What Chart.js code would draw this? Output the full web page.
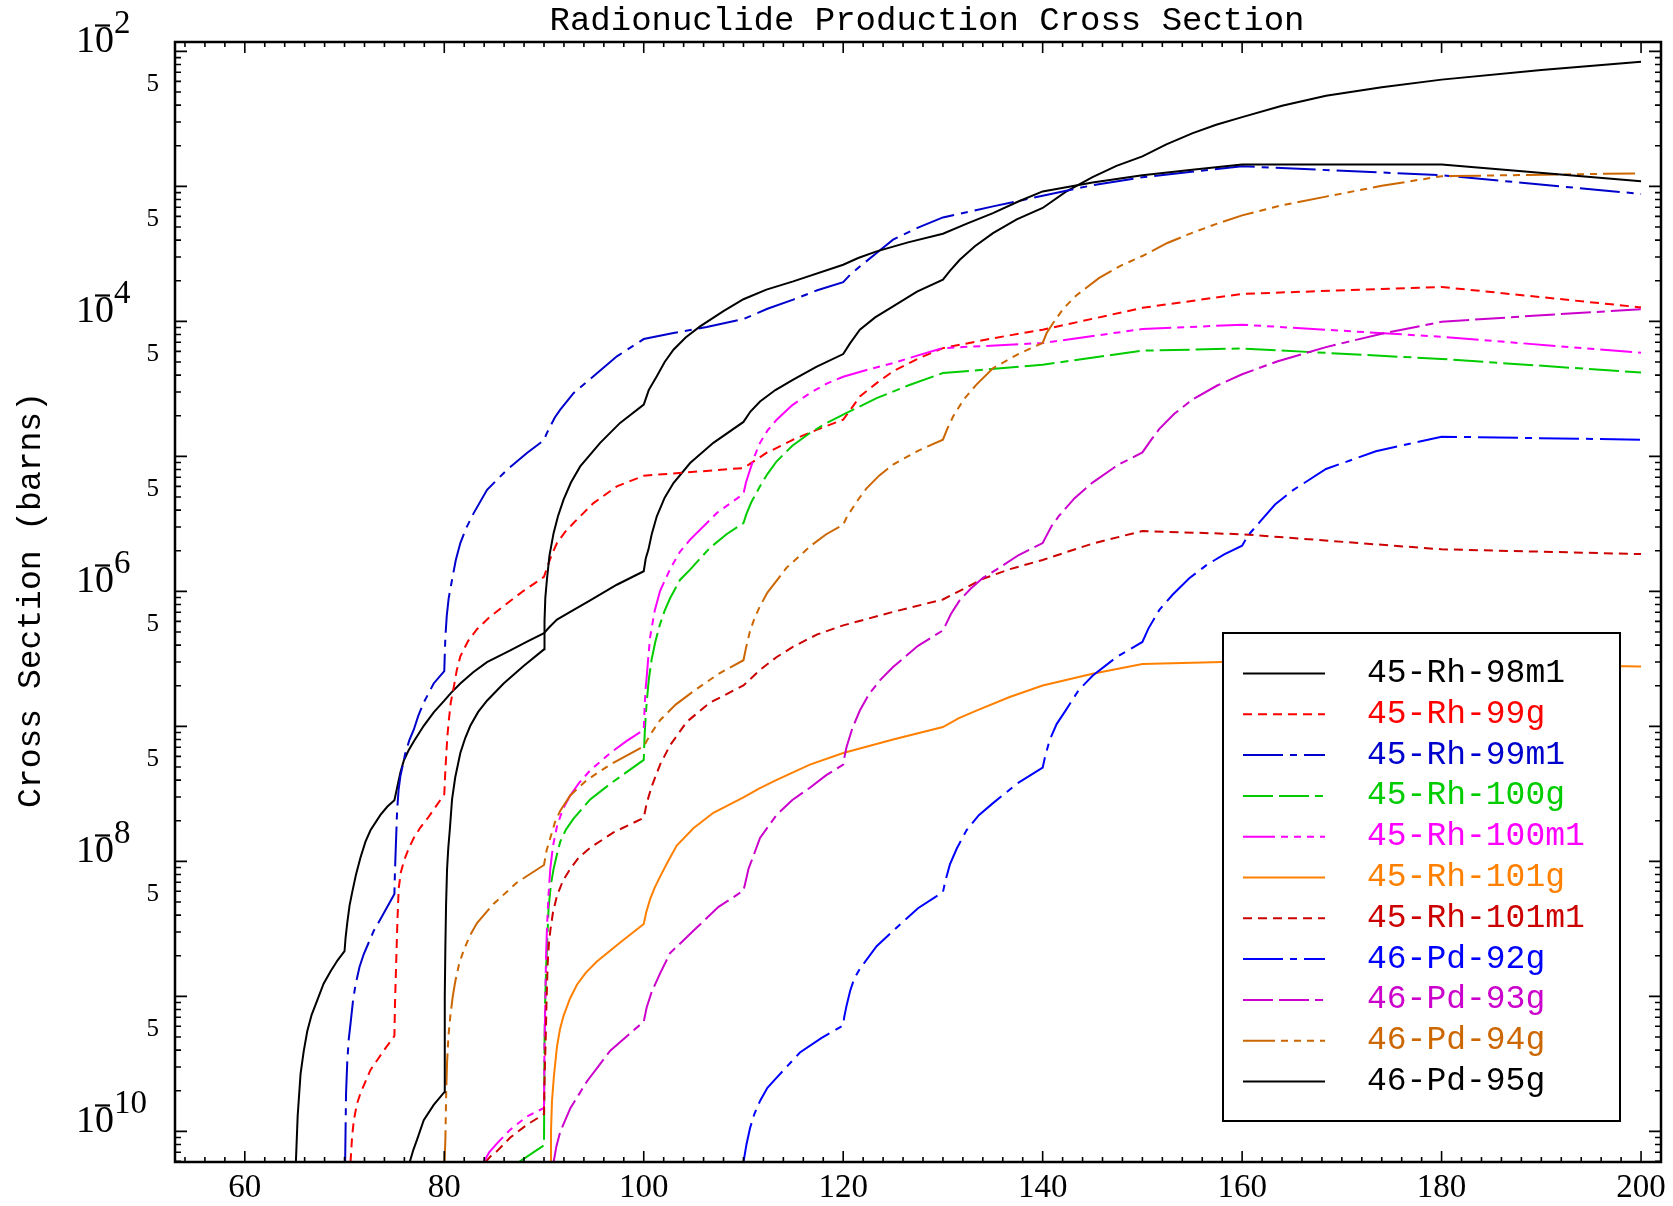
<!DOCTYPE html>
<html>
<head>
<meta charset="utf-8">
<title>Radionuclide Production Cross Section</title>
<script src="https://cdn.jsdelivr.net/npm/chart.js@4.4.1/dist/chart.umd.min.js"></script>
<style>
  html, body { margin: 0; padding: 0; background: #fff; }
  canvas { display: block; }
</style>
</head>
<body>
<canvas id="myChart" width="1673" height="1206"></canvas>
<script>
// [energy (MeV), cross section (barns)] for each product
var rh98m1 = [[65.12,5.9e-11],[65.3,1.3e-10],[65.59,2.67e-10],[65.9,3.9e-10],[66.26,5.51e-10],[66.7,7.3e-10],[67.26,9.33e-10],[67.9,1.24e-9],[68.59,1.53e-9],[69.3,1.85e-9],[70,2.16e-9],[70.1,2.7e-9],[70.27,3.49e-9],[70.5,4.7e-9],[70.77,5.92e-9],[71.15,8.0e-9],[71.6,1.07e-8],[72.1,1.4e-8],[72.6,1.7e-8],[73.6,2.21e-8],[74.3,2.55e-8],[75,2.84e-8],[75.27,3.51e-8],[75.6,4.55e-8],[75.94,5.57e-8],[76.4,6.6e-8],[76.94,7.74e-8],[77.94,1.01e-7],[78.94,1.27e-7],[80,1.55e-7],[80.7,1.78e-7],[81.61,2.08e-7],[82.9,2.52e-7],[84.28,2.99e-7],[86.62,3.65e-7],[88.3,4.25e-7],[90,4.91e-7],[90.5,5.4e-7],[91.3,6.18e-7],[92.63,7.05e-7],[94.63,8.59e-7],[97.3,1.12e-6],[100,1.41e-6],[100.2,1.75e-6],[100.47,2.04e-6],[100.8,2.65e-6],[101.31,3.6e-6],[102.1,4.95e-6],[102.98,6.35e-6],[104.65,8.93e-6],[106.98,1.26e-5],[110,1.8e-5],[110.7,2.15e-5],[111.66,2.55e-5],[113.2,3.1e-5],[114.99,3.7e-5],[117.3,4.6e-5],[120,5.73e-5],[120.7,6.9e-5],[121.67,8.67e-5],[123.2,1.07e-4],[125,1.29e-4],[127.4,1.66e-4],[130,2.04e-4],[130.7,2.37e-4],[131.69,2.86e-4],[133.2,3.6e-4],[135.02,4.51e-4],[137.4,5.7e-4],[140,6.92e-4],[142.3,9.1e-4],[145,1.17e-3],[147.4,1.42e-3],[150,1.67e-3],[152.4,2.05e-3],[155.05,2.48e-3],[157.4,2.86e-3],[160,3.26e-3],[164,3.96e-3],[168.41,4.7e-3],[174,5.42e-3],[180,6.18e-3],[190,7.28e-3],[200,8.38e-3]];
var rh99g = [[70.6,5.9e-11],[70.75,9.0e-11],[70.93,1.21e-10],[71.25,1.6e-10],[71.6,1.92e-10],[72.6,2.85e-10],[73.93,3.96e-10],[75,5.09e-10],[75.06,9.0e-10],[75.17,1.69e-9],[75.3,3.6e-9],[75.43,6.32e-9],[75.65,8.3e-9],[75.94,1.0e-8],[76.4,1.23e-8],[76.94,1.49e-8],[77.6,1.78e-8],[78.44,2.14e-8],[80,3.14e-8],[80.1,4.6e-8],[80.21,6.35e-8],[80.32,8.6e-8],[80.44,1.08e-7],[80.65,1.5e-7],[80.95,1.95e-7],[81.25,2.6e-7],[81.61,3.3e-7],[82.4,4.3e-7],[83.28,5.25e-7],[84.5,6.4e-7],[85.95,7.78e-7],[87.95,1.01e-6],[90,1.28e-6],[90.3,1.5e-6],[90.75,1.85e-6],[91.3,2.28e-6],[92.1,2.75e-6],[92.96,3.21e-6],[94.96,4.51e-6],[97.31,6.0e-6],[100,7.19e-6],[110,8.2e-6],[112.3,1.06e-5],[114.99,1.33e-5],[117.4,1.58e-5],[120,1.87e-5],[120.7,2.2e-5],[121.67,2.78e-5],[123.35,3.49e-5],[125,4.27e-5],[127.5,5.3e-5],[130,6.34e-5],[135,7.5e-5],[140,8.67e-5],[150,1.26e-4],[160,1.6e-4],[180,1.8e-4],[200,1.27e-4]];
var rh99m1 = [[70.06,5.9e-11],[70.15,1.9e-10],[70.27,3.25e-10],[70.42,4.8e-10],[70.6,6.28e-10],[70.85,9.3e-10],[71.1,1.22e-9],[71.5,1.65e-9],[71.93,2.06e-9],[72.93,3.06e-9],[73.93,4.12e-9],[75,5.73e-9],[75.05,8.2e-9],[75.13,1.22e-8],[75.27,2.37e-8],[75.42,3.4e-8],[75.6,4.28e-8],[76.1,6.35e-8],[76.5,7.9e-8],[76.94,9.44e-8],[77.4,1.2e-7],[77.94,1.5e-7],[78.94,2.08e-7],[80,2.57e-7],[80.05,3.4e-7],[80.11,4.59e-7],[80.25,6.6e-7],[80.44,8.89e-7],[80.78,1.22e-6],[81.15,1.7e-6],[81.61,2.28e-6],[82.2,2.95e-6],[82.95,3.8e-6],[84.29,5.66e-6],[86.29,7.96e-6],[88.29,1.06e-5],[90,1.32e-5],[90.25,1.47e-5],[90.63,1.67e-5],[91.1,1.95e-5],[91.63,2.22e-5],[92.96,2.94e-5],[94.96,3.92e-5],[97.31,5.51e-5],[100,7.4e-5],[102.98,8.2e-5],[106.32,9.08e-5],[110,1.04e-4],[112.4,1.24e-4],[114.99,1.45e-4],[117.4,1.7e-4],[120,1.95e-4],[120.7,2.22e-4],[121.67,2.55e-4],[123.35,3.21e-4],[125,4.03e-4],[127.5,4.95e-4],[130,5.89e-4],[135.02,7.11e-4],[140,8.53e-4],[145,1.02e-3],[150,1.17e-3],[160,1.41e-3],[180,1.21e-3],[200,8.79e-4]];
var rh100g = [[87.45,5.9e-11],[90,7.9e-11],[90.05,4.5e-10],[90.12,9.5e-10],[90.2,1.5e-9],[90.3,2.35e-9],[90.46,4.55e-9],[90.7,6.8e-9],[90.96,8.79e-9],[91.3,1.13e-8],[91.63,1.4e-8],[92.2,1.72e-8],[92.96,2.07e-8],[94.63,2.88e-8],[96.64,3.75e-8],[100,5.65e-8],[100.05,7.2e-8],[100.1,8.91e-8],[100.2,1.2e-7],[100.3,1.51e-7],[100.5,2.2e-7],[100.8,3.16e-7],[101.15,4.2e-7],[101.6,5.62e-7],[102.1,7.2e-7],[102.64,8.89e-7],[103.65,1.22e-6],[104.65,1.45e-6],[106.6,2.09e-6],[108.3,2.65e-6],[110,3.21e-6],[110.3,3.75e-6],[110.8,4.6e-6],[111.66,6.0e-6],[112.4,7.4e-6],[113.33,9.2e-6],[114.9,1.2e-5],[116.66,1.49e-5],[118.3,1.76e-5],[120,2.04e-5],[123.35,2.7e-5],[126.5,3.35e-5],[130,4.14e-5],[140,4.78e-5],[150,6.07e-5],[160,6.3e-5],[180,5.27e-5],[200,4.18e-5]];
var rh100m1 = [[83.95,5.9e-11],[84.5,7.0e-11],[85.29,8.15e-11],[86.62,1.03e-10],[88.29,1.29e-10],[90,1.49e-10],[90.05,4.5e-10],[90.13,8.75e-10],[90.2,1.9e-9],[90.3,3.27e-9],[90.45,5.6e-9],[90.63,8.79e-9],[90.9,1.3e-8],[91.3,1.82e-8],[91.9,2.45e-8],[92.63,3.08e-8],[93.5,3.8e-8],[94.63,4.72e-8],[96.64,6.35e-8],[98.3,7.8e-8],[100,9.44e-8],[100.1,1.45e-7],[100.2,1.95e-7],[100.31,2.38e-7],[100.45,3.2e-7],[100.64,4.59e-7],[101.1,7.2e-7],[101.64,1.01e-6],[102.64,1.46e-6],[103.6,1.95e-6],[104.65,2.42e-6],[107.32,3.8e-6],[110,5.28e-6],[110.25,6.4e-6],[110.66,7.96e-6],[111.1,1.0e-5],[111.66,1.26e-5],[112.4,1.55e-5],[113.33,1.87e-5],[114.9,2.4e-5],[116.66,2.94e-5],[118.3,3.45e-5],[120,3.89e-5],[122.5,4.4e-5],[125,4.91e-5],[127.5,5.6e-5],[130,6.34e-5],[140,6.92e-5],[150,8.77e-5],[160,9.46e-5],[180,7.69e-5],[200,5.85e-5]];
var rh101g = [[90.63,5.9e-11],[90.7,1.0e-10],[90.8,1.68e-10],[91.0,2.6e-10],[91.3,4.24e-10],[91.6,5.7e-10],[91.96,7.18e-10],[92.6,9.6e-10],[93.3,1.22e-9],[94.2,1.5e-9],[95.3,1.81e-9],[97.64,2.51e-9],[100,3.44e-9],[100.25,4.2e-9],[100.64,5.25e-9],[101.1,6.4e-9],[101.64,7.71e-9],[102.4,9.9e-9],[103.31,1.31e-8],[104.98,1.76e-8],[106.98,2.29e-8],[110,2.98e-8],[111.6,3.48e-8],[113.33,4.01e-8],[116.66,5.21e-8],[120,6.35e-8],[125,8.0e-8],[130,9.89e-8],[131.6,1.15e-7],[133.36,1.31e-7],[136.69,1.65e-7],[140,2.01e-7],[145,2.45e-7],[150,2.9e-7],[160,3.02e-7],[180,2.92e-7],[200,2.78e-7]];
var rh101m1 = [[84.12,5.9e-11],[84.6,6.5e-11],[85.29,7.14e-11],[86.62,9.0e-11],[88.29,1.12e-10],[90,1.34e-10],[90.05,2.3e-10],[90.1,3.3e-10],[90.16,4.52e-10],[90.25,9.0e-10],[90.36,1.69e-9],[90.48,2.4e-9],[90.63,3.06e-9],[90.9,4.2e-9],[91.3,5.55e-9],[91.9,7.2e-9],[92.63,8.79e-9],[93.5,1.07e-8],[94.63,1.26e-8],[96.97,1.64e-8],[100,2.1e-8],[100.3,2.7e-8],[100.8,3.6e-8],[101.64,5.21e-8],[102.64,7.24e-8],[104.31,1.08e-7],[106.65,1.5e-7],[110,2.01e-7],[111.66,2.62e-7],[113.3,3.25e-7],[114.99,3.9e-7],[117.4,4.8e-7],[120,5.6e-7],[125,7.05e-7],[130,8.71e-7],[131.69,1.01e-6],[134.02,1.24e-6],[136.69,1.46e-6],[140,1.71e-6],[145,2.26e-6],[150,2.8e-6],[160,2.65e-6],[180,2.05e-6],[200,1.89e-6]];
var pd92g = [[110,5.9e-11],[110.3,8.0e-11],[110.66,1.06e-10],[111.1,1.35e-10],[111.66,1.68e-10],[112.4,2.1e-10],[113.33,2.5e-10],[115.66,3.84e-10],[117.8,4.9e-10],[120,6.08e-10],[120.1,7.0e-10],[120.33,8.5e-10],[120.7,1.1e-9],[121.1,1.35e-9],[121.67,1.6e-9],[123.35,2.35e-9],[125,3.06e-9],[127.5,4.5e-9],[130,5.92e-9],[130.25,7.2e-9],[130.7,9.5e-9],[131.4,1.25e-8],[132.36,1.7e-8],[133.6,2.2e-8],[135.02,2.7e-8],[137.5,3.8e-8],[140,4.94e-8],[140.25,6.0e-8],[140.7,7.9e-8],[141.4,1.04e-7],[142.36,1.33e-7],[143.6,1.85e-7],[145.03,2.38e-7],[147.5,3.3e-7],[150,4.22e-7],[150.6,5.3e-7],[151.7,7.29e-7],[153,9.4e-7],[154.7,1.25e-6],[156.5,1.58e-6],[158.2,1.88e-6],[160,2.18e-6],[160.6,2.6e-6],[161.73,3.24e-6],[163.3,4.4e-6],[165.07,5.6e-6],[168.41,8.07e-6],[173.41,1.09e-5],[180,1.4e-5],[200,1.33e-5]];
var pd93g = [[90.96,5.9e-11],[91.25,7.8e-11],[91.63,9.93e-11],[92.63,1.48e-10],[94.3,2.34e-10],[96.64,3.96e-10],[100,6.5e-10],[100.3,8.32e-10],[100.8,1.08e-9],[101.64,1.48e-9],[102.64,2.09e-9],[104.98,3.06e-9],[107.5,4.6e-9],[110,6.08e-9],[110.2,7.0e-9],[110.5,8.79e-9],[111,1.1e-8],[111.66,1.49e-8],[112.4,1.78e-8],[113.33,2.21e-8],[114.9,2.85e-8],[116.66,3.51e-8],[118.3,4.35e-8],[120,5.21e-8],[120.1,5.8e-8],[120.33,7.0e-8],[120.9,9.6e-8],[121.67,1.31e-7],[122.6,1.74e-7],[123.7,2.2e-7],[125,2.75e-7],[127.5,3.95e-7],[130,5.14e-7],[130.3,5.7e-7],[130.8,6.8e-7],[131.69,8.6e-7],[132.8,1.05e-6],[134.02,1.26e-6],[135.36,1.45e-6],[137.6,1.86e-6],[140,2.28e-6],[140.4,2.6e-6],[140.9,3.05e-6],[141.67,3.65e-6],[143.2,4.9e-6],[145,6.4e-6],[147.5,8.6e-6],[150,1.07e-5],[150.7,1.27e-5],[151.7,1.6e-5],[153.2,2.07e-5],[155.05,2.65e-5],[157.5,3.35e-5],[160,4.06e-5],[163.5,5.05e-5],[168.41,6.45e-5],[174,8.1e-5],[180,9.93e-5],[190,1.11e-4],[200,1.23e-4]];
var pd94g = [[80.03,5.9e-11],[80.11,8.71e-11],[80.19,1.9e-10],[80.28,3.25e-10],[80.43,5.2e-10],[80.61,7.18e-10],[80.85,1.0e-9],[81.11,1.3e-9],[81.5,1.75e-9],[81.95,2.2e-9],[82.6,2.85e-9],[83.28,3.49e-9],[84.95,4.85e-9],[87.29,6.98e-9],[90,9.4e-9],[90.25,1.2e-8],[90.63,1.49e-8],[91.1,1.95e-8],[91.63,2.37e-8],[92.63,3.08e-8],[94.3,4.01e-8],[96.64,5.21e-8],[100,7.11e-8],[100.7,8.8e-8],[101.64,1.11e-7],[103.2,1.45e-7],[104.98,1.82e-7],[107.5,2.45e-7],[110,3.09e-7],[110.25,3.8e-7],[110.66,5.1e-7],[111.1,6.3e-7],[111.66,7.78e-7],[112.4,9.8e-7],[113.33,1.2e-6],[114.33,1.5e-6],[116.66,2.15e-6],[118.3,2.65e-6],[120,3.12e-6],[120.4,3.6e-6],[121,4.2e-6],[121.6,4.9e-6],[122.34,5.8e-6],[123.6,7.2e-6],[125,8.7e-6],[127.5,1.1e-5],[130,1.33e-5],[130.4,1.58e-5],[131.03,1.98e-5],[132.1,2.65e-5],[133.36,3.4e-5],[135.02,4.5e-5],[137.5,5.7e-5],[140,6.92e-5],[140.4,8.2e-5],[141,9.6e-5],[142.1,1.25e-4],[143.34,1.55e-4],[145.67,2.1e-4],[147.8,2.58e-4],[150,3.05e-4],[152.5,3.81e-4],[155.05,4.55e-4],[157.5,5.3e-4],[160,6.1e-4],[164,7.25e-4],[168.41,8.4e-4],[174,1.01e-3],[180,1.19e-3],[200,1.25e-3]];
var pd95g = [[76.53,5.9e-11],[76.9,7.3e-11],[77.27,8.69e-11],[77.94,1.21e-10],[78.94,1.57e-10],[80,1.95e-10],[80.05,1.0e-9],[80.11,2.35e-9],[80.18,4.8e-9],[80.28,8.79e-9],[80.4,1.25e-8],[80.55,1.7e-8],[80.78,2.88e-8],[81.1,4.2e-8],[81.61,6.35e-8],[82.1,8.2e-8],[82.61,1.01e-7],[83.4,1.28e-7],[84.28,1.55e-7],[85.95,2.08e-7],[87.95,2.8e-7],[90,3.72e-7],[90.05,6.0e-7],[90.13,8.91e-7],[90.29,1.22e-6],[90.55,1.85e-6],[90.96,2.7e-6],[91.4,3.6e-6],[91.96,4.78e-6],[92.7,6.4e-6],[93.63,8.43e-6],[95.63,1.26e-5],[97.63,1.77e-5],[100,2.42e-5],[100.15,2.6e-5],[100.5,3.1e-5],[101.31,3.92e-5],[102.1,5.0e-5],[102.98,6.17e-5],[104.2,7.6e-5],[105.65,9.18e-5],[107.99,1.19e-4],[110,1.46e-4],[112.3,1.72e-4],[114.99,1.98e-4],[120,2.63e-4],[121.5,2.95e-4],[123.35,3.3e-4],[126.5,3.85e-4],[130,4.46e-4],[132.4,5.3e-4],[135.02,6.34e-4],[137.5,7.7e-4],[140,9.18e-4],[145,1.07e-3],[150,1.21e-3],[155,1.33e-3],[160,1.45e-3],[180,1.45e-3],[200,1.09e-3]];

var names = ['45-Rh-98m1', '45-Rh-99g', '45-Rh-99m1', '45-Rh-100g', '45-Rh-100m1', '45-Rh-101g',
             '45-Rh-101m1', '46-Pd-92g', '46-Pd-93g', '46-Pd-94g', '46-Pd-95g'];
var series = [rh98m1, rh99g, rh99m1, rh100g, rh100m1, rh101g, rh101m1, pd92g, pd93g, pd94g, pd95g];

// axis ticks
var xTickLabels = [60, 80, 100, 120, 140, 160, 180, 200];
var yPowerLabels = [-2, -4, -6, -8, -10];
var yFiveLabels = [-3, -4, -5, -6, -7, -8, -9, -10];

// line styles
var colors = ['#000000', '#ff0000', '#0000cc', '#00cc00', '#ff00ff', '#ff8000',
              '#cc0000', '#0000ff', '#cc00cc', '#cc6600', '#000000'];
var dashed = [9, 6];
var dashDot = [40, 7, 7, 7];
var longLongShort = [30, 6, 30, 6, 8, 6];
var longDots = [32, 6, 7, 6, 7, 6, 7, 6];
var dashes = [[], dashed, dashDot, longLongShort, longDots, [], dashed, dashDot, longLongShort, longDots, []];

var datasets = series.map(function (s, i) {
	return {
		label      : names[i],
		data       : s.map(function (p) { return {x: p[0], y: p[1]}; }),
		borderColor: colors[i],
		borderWidth: 2,
		borderDash : dashes[i],
		pointRadius: 0,
		tension    : 0,
		fill       : false,
		order      : series.length - i
	};
});

function line(ctx, x1, y1, x2, y2) {
	ctx.moveTo(x1, y1);
	ctx.lineTo(x2, y2);
}

// frame, ticks, labels and legend drawn IDL style
var frame = {
	id: 'frame',
	afterDraw: function (chart) {
		var ctx = chart.ctx;
		var a = chart.chartArea;
		var xs = chart.scales.x;
		var ys = chart.scales.y;
		ctx.save();
		ctx.fillStyle = '#000';
		ctx.strokeStyle = '#000';

		ctx.font = '34px "Liberation Mono"';
		ctx.textAlign = 'center';
		ctx.textBaseline = 'alphabetic';
		ctx.fillText('Radionuclide Production Cross Section', 927, 30);

		ctx.save();
		ctx.translate(31, 600);
		ctx.rotate(-Math.PI / 2);
		ctx.textBaseline = 'middle';
		ctx.font = '33px "Liberation Mono"';
		ctx.fillText('Cross Section (barns)', 0, 0);
		ctx.restore();

		// legend
		var lx = 1223, ly = 633, lw = 397, lh = 488;
		ctx.fillStyle = '#fff';
		ctx.fillRect(lx, ly, lw, lh);
		ctx.lineWidth = 2;
		ctx.strokeRect(lx, ly, lw, lh);
		ctx.textAlign = 'left';
		ctx.font = '33px "Liberation Mono"';
		names.forEach(function (n, i) {
			var yy = 673.5 + i * 40.8;
			ctx.strokeStyle = colors[i];
			ctx.setLineDash(dashes[i]);
			ctx.beginPath();
			line(ctx, 1243, yy, 1325, yy);
			ctx.stroke();
			ctx.setLineDash([]);
			ctx.fillStyle = colors[i];
			ctx.fillText(n, 1367, yy + 8.5);
		});

		// ticks on all four sides, pointing in
		ctx.strokeStyle = '#000';
		ctx.fillStyle = '#000';
		ctx.lineWidth = 1.6;
		ctx.beginPath();
		for (var v = 54; v < 202; v += 2) {
			var px = xs.getPixelForValue(v);
			var len = v % 20 === 0 ? 11 : 5;
			line(ctx, px, a.bottom, px, a.bottom - len);
			line(ctx, px, a.top, px, a.top + len);
		}
		for (var e = -11; e <= -2; e++) {
			for (var m = 1; m < 10; m++) {
				var val = m * Math.pow(10, e);
				if (val < ys.min || val > ys.max) continue;
				var py = ys.getPixelForValue(val);
				var tl = m === 1 ? 12 : 6;
				line(ctx, a.left, py, a.left + tl, py);
				line(ctx, a.right, py, a.right - tl, py);
			}
		}
		ctx.stroke();

		ctx.lineWidth = 2.5;
		ctx.strokeRect(a.left, a.top, a.right - a.left, a.bottom - a.top);

		// x labels
		ctx.font = '33px "Liberation Serif"';
		ctx.textAlign = 'center';
		xTickLabels.forEach(function (t) {
			ctx.fillText(String(t), xs.getPixelForValue(t), 1197);
		});

		// y labels: powers of ten (minus sign over the zero) and the 5s between them
		yPowerLabels.forEach(function (p) {
			var base = ys.getPixelForValue(Math.pow(10, p)) + 1;
			ctx.textAlign = 'left';
			ctx.font = '38px "Liberation Serif"';
			ctx.fillText('10', 76, base);
			ctx.fillRect(95, base - 28, 15, 2.2);
			ctx.font = '33px "Liberation Serif"';
			ctx.fillText(String(-p), 114, base - 19);
		});
		ctx.font = '25px "Liberation Serif"';
		ctx.textAlign = 'right';
		yFiveLabels.forEach(function (p) {
			var py = ys.getPixelForValue(5 * Math.pow(10, p));
			ctx.fillText('5', 159, py - 1);
		});

		ctx.restore();
	}
};

var ctx = document.getElementById('myChart').getContext('2d');

var myChart = new Chart(ctx, {
	type: 'line',
	data: { datasets: datasets },
	options: {
		responsive: false,
		devicePixelRatio: 1,
		animation: false,
		layout: { padding: { left: 175, top: 42, right: 12, bottom: 44 } },
		plugins: { legend: { display: false }, tooltip: { enabled: false } },
		scales: {
			x: { type: 'linear', min: 53, max: 202, display: false },
			y: { type: 'logarithmic', min: 5.93e-11, max: 1.174e-2, display: false }
		}
	},
	plugins: [frame]
});
</script>
</body>
</html>
